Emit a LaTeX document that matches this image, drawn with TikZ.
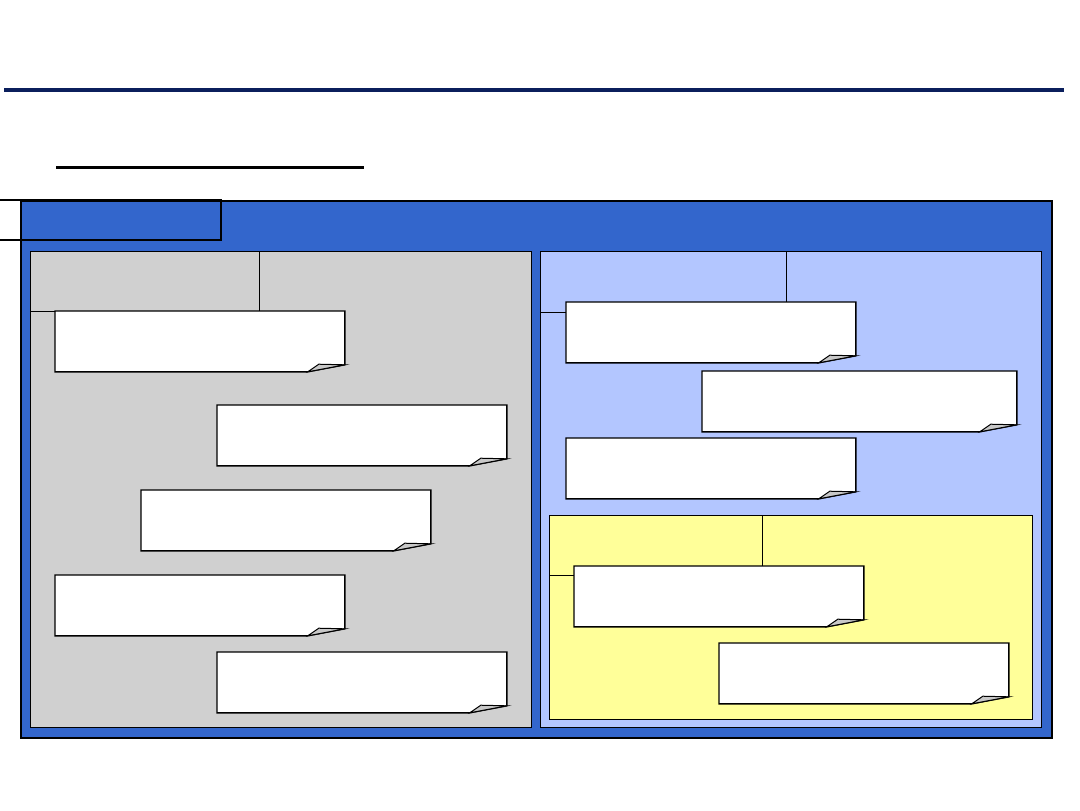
\documentclass[tikz,border=0pt]{standalone}
\usetikzlibrary{positioning,calc}

\definecolor{navyrule}{RGB}{11,31,92}
\definecolor{frameblue}{RGB}{51,102,204}
\definecolor{panelgray}{RGB}{208,208,208}
\definecolor{panelblue}{RGB}{179,198,255}
\definecolor{panelyellow}{RGB}{255,255,153}
\definecolor{curlgray}{RGB}{200,200,200}

\begin{document}
\begin{tikzpicture}[x=0.5pt,y=-0.5pt,
        box/.style={draw,line width=0.6pt,inner sep=0pt,anchor=north west},
        note/.style={inner sep=0pt,anchor=north west,minimum width=144.5pt,minimum height=30pt}]
        \useasboundingbox (0,0) rectangle (1080,810);

        % rules at the top
        \draw[navyrule,line width=2pt] (4,90) -- (1064,90);
        \draw[line width=1.5pt] (56,167.5) -- (364,167.5);

        % outer frame and tab
        \node[box,fill=frameblue,line width=1pt,minimum width=515.5pt,minimum height=268.5pt] (frame) at (20,200) {};
        \draw[line width=0.6pt] (0,200) -- (221,200) -- (221,240) -- (0,240);

        % panels with their header boxes
        \node[box,fill=panelgray,minimum width=250.5pt,minimum height=238pt] (grey) at (30,251) {};
        \node[box,minimum width=114.5pt,minimum height=30pt] (greyhead) at (30,251) {};
        \node[box,fill=panelblue,minimum width=250.5pt,minimum height=238pt] (blue) at (540,251) {};
        \node[box,minimum width=123pt,minimum height=30.5pt] (bluehead) at (540,251) {};
        \node[box,fill=panelyellow,minimum width=241.5pt,minimum height=102pt] (yellow) at (549,515) {};
        \node[box,minimum width=106.5pt,minimum height=30pt] (yellowhead) at (549,515) {};

        % notes
        \node[note] (g1) at (55,311) {};
        \node[note] (g2) at (217,405) {};
        \node[note] (g3) at (141,490) {};
        \node[note] (g4) at (55,575) {};
        \node[note] (g5) at (217,652) {};
        \node[note] (b1) at (566,302) {};
        \node[note,minimum width=157pt] (b2) at (702,371) {};
        \node[note] (b3) at (566,438) {};
        \node[note] (y1) at (574,566) {};
        \node[note] (y2) at (719,643) {};

        \foreach \n in {g1,g2,g3,g4,g5,b1,b2,b3,y1,y2} {
        \draw[line width=0.7pt,fill=white] (\n.north west) -- (\n.north east)
            -- ([yshift=3.5pt]\n.south east) -- ([xshift=-18.5pt]\n.south east)
            -- (\n.south west) -- cycle;
        \draw[line width=0.5pt,fill=curlgray] ([xshift=-18.5pt]\n.south east)
            -- ([xshift=-13pt,yshift=3.8pt]\n.south east)
            -- ([yshift=3.5pt]\n.south east) -- cycle;}
\end{tikzpicture}
\end{document}
